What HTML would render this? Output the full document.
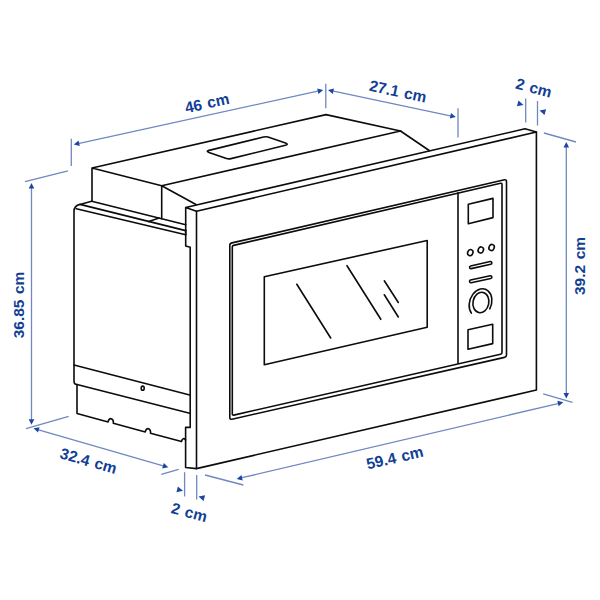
<!DOCTYPE html>
<html><head><meta charset="utf-8">
<style>
html,body{margin:0;padding:0;background:#fff;}
body{width:600px;height:600px;overflow:hidden;}
svg{display:block;}
.k{fill:none;stroke:#0c0c0c;stroke-width:1.6;stroke-linejoin:round;stroke-linecap:round;}
.b{fill:none;stroke:#7088c0;stroke-width:1.3;}
.ah{fill:#1d46a0;stroke:none;}
.t{font-family:"Liberation Sans",sans-serif;font-weight:bold;font-size:15.5px;fill:#123f95;word-spacing:1.2px;}
</style></head>
<body>
<svg width="600" height="600" viewBox="0 0 600 600">
<g class="k">
<!-- top unit -->
<path d="M92,201.3 L92,168 L326,114.6 L400.5,131 L161.7,185.8 L92,168"/>
<path d="M161.7,185.8 L161.7,218.7"/>
<path d="M161.7,185.8 L196,204.5"/>
<path d="M400.5,131 L429.2,150.5"/>
<!-- vent -->
<path d="M209,150.4 L263.5,137 Q266,136.4 268,137.1 L285.5,143 Q289,144.4 285.5,145.3 L231,158.6 Q228.5,159.2 226.5,158.5 L209,152.5 Q205.5,151.2 209,150.4 Z"/>
<!-- chassis lip -->
<path d="M91.7,201.3 L185.7,224.7"/>
<path d="M91.6,201.3 L80,204.4 L185.7,230.6"/>
<path d="M148.7,221.6 L159.2,218"/>
<path d="M76.3,208.7 L185.7,234.7"/>
<!-- chassis left side -->
<path d="M80,204.4 Q74,205.8 74,211.5 L74,381 Q74,384.5 77,384.5 L77,413.5 L108.1,421.9 A2.6,3.9 0 0 1 113.3,423.3 L145.3,431.9 A2.6,3.9 0 0 1 150.5,433.3 L181.5,441.6 A2.4,3.9 0 0 1 185.6,440"/>
<path d="M74,365 L189.7,395"/>
<path d="M77,384.5 L189.7,413.3"/>
<ellipse cx="142.7" cy="388.2" rx="1.5" ry="2.1"/>
<!-- frame -->
<path d="M185.7,234.7 L185.7,207.5 L525,128.8 L536.4,132 L196.5,211.2 L185.7,207.5"/>
<path d="M185.7,230 L185.7,246 L190.2,247.3 L190.2,427.4 L185.6,427.4 L185.6,467.5 L196.5,468.6 L536.4,390 L536.4,132"/>
<path d="M196.5,211.2 L196.5,468.6"/>
<!-- door panel outer/inner -->
<path style="stroke-width:1.6" d="M232,242.9 L504.5,179.8 Q506.5,179.4 506.5,181.5 L506.5,355 Q506.5,357 504.5,357.4 L232,419.2 Q229.8,419.7 229.8,417.5 L229.8,245.3 Q229.8,243.4 232,242.9 Z"/>
<path style="stroke-width:1.6" d="M233.6,245.4 L500.5,183.3 Q502,183 502,184.5 L502,352.5 Q502,354 500.5,354.3 L233.8,415.1 Q232.3,415.4 232.3,414 L232.3,246.8 Q232.3,245.7 233.6,245.4 Z"/>
<path d="M458,192.7 L458,363.3"/>
<!-- window -->
<path d="M264.3,276.7 L427.2,240.5 L427.2,327.3 L264.3,364.7 Z"/>
<path d="M296.8,284.3 L330.7,338"/>
<path d="M347,265.7 L380.8,319.3"/>
<path d="M384.3,280.8 L398.3,302.5"/>
<path d="M384.3,294.8 L398.3,317"/>
<!-- controls -->
<path d="M468.3,204.2 L493,198.4 L493,217.6 L468.3,223.8 Z"/>
<ellipse cx="470.3" cy="252.6" rx="2.6" ry="3.1" transform="rotate(22 470.3 252.6)"/>
<ellipse cx="480.8" cy="250" rx="2.6" ry="3.1" transform="rotate(22 480.8 250)"/>
<ellipse cx="491.6" cy="247.5" rx="2.6" ry="3.1" transform="rotate(22 491.6 247.5)"/>
<path d="M471.20,268.62 L490.80,264.22 A1.35,1.35 0 0 0 490.20,261.58 L470.60,265.98 A1.35,1.35 0 0 0 471.20,268.62 Z"/>
<path d="M471.19,282.72 L490.79,278.42 A1.35,1.35 0 0 0 490.21,275.78 L470.61,280.08 A1.35,1.35 0 0 0 471.19,282.72 Z"/>
<ellipse cx="480.9" cy="302.5" rx="7.9" ry="10.3" transform="rotate(12 480.9 302.5)"/>
<path d="M471.4,313.1 A10.9,14.4 20 1 1 489.8,308.8"/>
<path d="M468,329.8 L492.7,324.2 L492.7,343.6 L468,349.2 Z"/>

</g>
<g>
<path class="b" d="M78.10,143.56 L318.90,90.94"/>
<path class="b" d="M332.30,90.91 L451.50,116.09"/>
<path class="b" d="M566.30,146.40 L566.30,394.20"/>
<path class="b" d="M31.50,187.40 L31.50,420.35"/>
<path class="b" d="M37.73,429.52 L164.07,466.08"/>
<path class="b" d="M240.98,477.99 L559.02,403.31"/>
<path class="b" d="M71.3,138.8 L71.3,166"/>
<path class="b" d="M325.8,83.7 L325.8,108.3"/>
<path class="b" d="M458,108.3 L458,137.5"/>
<path class="b" d="M525.7,98.5 L525.7,122.5"/>
<path class="b" d="M537.5,101 L537.5,125.5"/>
<path class="b" d="M544,133 L576,142"/>
<path class="b" d="M25,181.7 L68,170.8"/>
<path class="b" d="M26,428.5 L68.7,416.3"/>
<path class="b" d="M161.3,474.3 L178.7,469.4"/>
<path class="b" d="M184.6,472.2 L184.6,496.5"/>
<path class="b" d="M196.7,475 L196.7,499.5"/>
<path class="b" d="M205,475 L243.3,485"/>
<path class="b" d="M543.2,393.8 L572.5,402.3"/>
</g>
<g class="ah">
<path d="M73.80,144.50 L78.58,140.59 L79.77,146.06 Z"/>
<path d="M323.20,90.00 L318.42,93.91 L317.23,88.44 Z"/>
<path d="M328.00,90.00 L333.96,88.40 L332.80,93.88 Z"/>
<path d="M455.80,117.00 L449.84,118.60 L451.00,113.12 Z"/>
<path d="M566.30,142.00 L569.10,147.50 L563.50,147.50 Z"/>
<path d="M566.30,398.60 L563.50,393.10 L569.10,393.10 Z"/>
<path d="M31.50,183.00 L34.30,188.50 L28.70,188.50 Z"/>
<path d="M31.50,424.75 L28.70,419.25 L34.30,419.25 Z"/>
<path d="M33.50,428.30 L39.56,427.14 L38.01,432.52 Z"/>
<path d="M168.30,467.30 L162.24,468.46 L163.79,463.08 Z"/>
<path d="M236.70,479.00 L241.41,475.02 L242.69,480.47 Z"/>
<path d="M563.30,402.30 L558.59,406.28 L557.31,400.83 Z"/>
<path d="M523.50,105.00 L516.93,106.35 L518.48,100.56 Z"/>
<path d="M539.50,110.50 L546.07,109.15 L544.52,114.94 Z"/>
<path d="M183.00,490.80 L176.47,492.34 L177.85,486.50 Z"/>
<path d="M198.50,496.50 L205.07,495.15 L203.52,500.94 Z"/>
</g>
<!-- ===== TEXT ===== -->
<text class="t" text-anchor="middle" transform="translate(208.2,108.4) rotate(-12.5)">46 cm</text>
<text class="t" text-anchor="middle" transform="translate(396.8,96.6) rotate(12)">27.1 cm</text>
<text class="t" text-anchor="middle" transform="translate(532.5,93) rotate(15)">2 cm</text>
<text class="t" text-anchor="middle" transform="translate(24,305) rotate(-90)">36.85 cm</text>
<text class="t" text-anchor="middle" transform="translate(585,266) rotate(-90)">39.2 cm</text>
<text class="t" text-anchor="middle" transform="translate(87,466) rotate(16)">32.4 cm</text>
<text class="t" text-anchor="middle" transform="translate(187.8,517.6) rotate(15)">2 cm</text>
<text class="t" text-anchor="middle" transform="translate(396,463) rotate(-13)">59.4 cm</text>

</svg>
</body></html>
